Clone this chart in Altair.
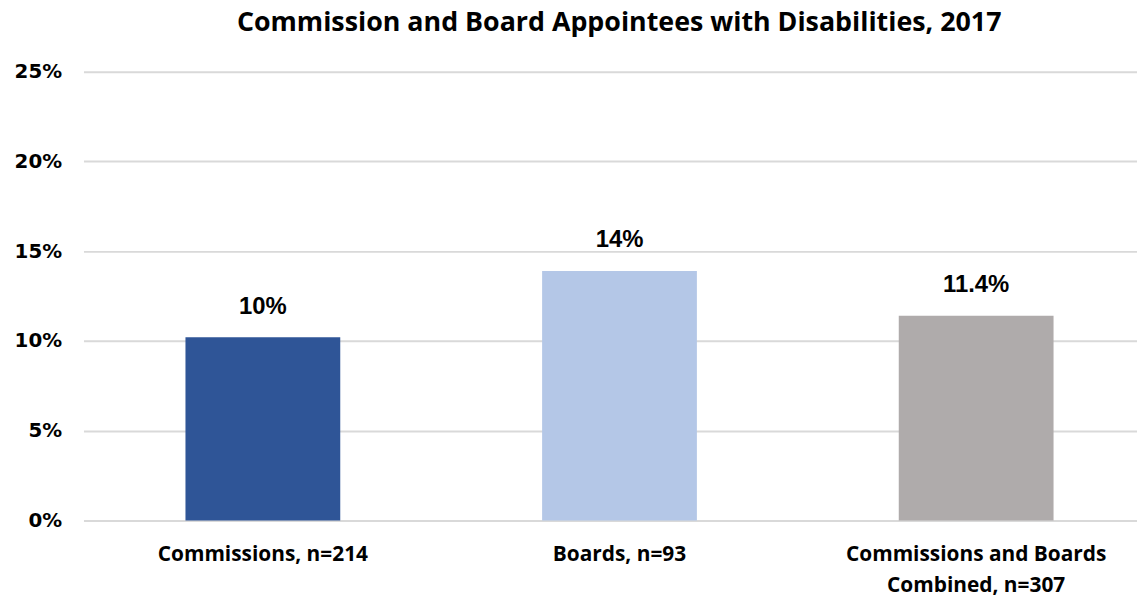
import altair as alt
import pandas as pd

categories = ["Commissions, n=214", "Boards, n=93", "Commissions and Boards Combined, n=307"]
values = [0.102, 0.139, 0.114]
value_labels = ["10%", "14%", "11.4%"]
colors = ["#2F5597", "#B4C7E7", "#AFABAB"]
y_ticks = [0, 0.05, 0.10, 0.15, 0.20, 0.25]

df = pd.DataFrame({"cat": categories, "val": values, "lab": value_labels, "col": colors})

x = alt.X("cat:N", sort=categories, title=None,
          scale=alt.Scale(paddingInner=0.566, paddingOuter=0.26, align=0.55),
          axis=alt.Axis(labelAngle=0, domain=False, ticks=False, labelPadding=23,
                        labelFont="Open Sans", labelFontWeight="bold", labelFontSize=21,
                        labelColor="#000000", labelLineHeight=32, labelBaseline="top",
                        labelLimit=0,
                        labelExpr="datum.value == 'Commissions and Boards Combined, n=307' ? ['Commissions and Boards', 'Combined, n=307'] : datum.label"))

y = alt.Y("val:Q", title=None,
          scale=alt.Scale(domain=[0, 0.25], nice=False),
          axis=alt.Axis(values=y_ticks, format=".0%", domain=False, ticks=False,
                        labelPadding=22, labelFont="DejaVu Sans", labelFontWeight="bold",
                        labelFontSize=20, labelColor="#000000",
                        gridColor="#D9D9D9", gridWidth=2))

bars = alt.Chart(df).mark_bar().encode(
    x=x, y=y, color=alt.Color("col:N", scale=None)
)

text = alt.Chart(df).mark_text(dy=-31, baseline="middle", font="Liberation Sans",
                               fontWeight="bold", fontSize=24, color="#000000").encode(
    x=alt.X("cat:N", sort=categories), y="val:Q", text="lab:N"
)

chart = (bars + text).properties(
    width=1061, height=452,
    title=alt.TitleParams("Commission and Board Appointees with Disabilities, 2017",
                          font="Open Sans", fontSize=27, fontWeight="bold", color="#000000",
                          anchor="middle", offset=25, dx=9),
    autosize=alt.AutoSizeParams(type="none"),
    padding={"left": 76, "top": 62, "right": 0, "bottom": 78},
).configure_view(stroke=None)

chart.save("out.html", embed_options={"renderer": "svg", "actions": False})
